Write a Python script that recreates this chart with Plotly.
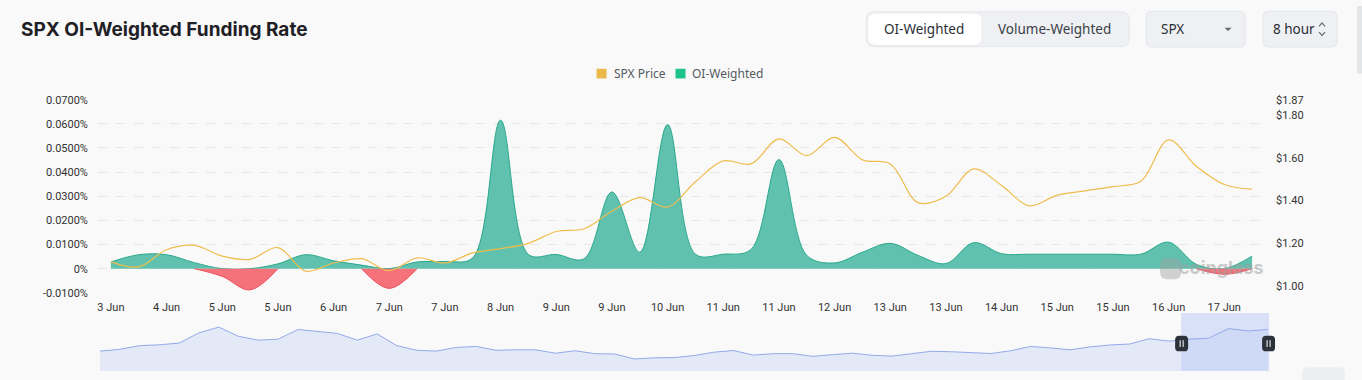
import pandas as pd
import plotly.graph_objects as go

W, H = 1362, 380

# ---------------- data ----------------
start_time = "2025-06-03 16:00"
n_points = 42
times = pd.date_range(start_time, periods=n_points, freq="8h")

# OI-weighted funding rate, in percent
funding_rate = [0.0028, 0.0058, 0.0058, 0.0025, -0.0032, -0.0088, 0.0020, 0.0058,
                0.0033, 0.0015, -0.0082, 0.0028, 0.0030, 0.0045, 0.0615, 0.0059,
                0.0059, 0.0041, 0.0318, 0.0068, 0.0597, 0.0060, 0.0060, 0.0080,
                0.0452, 0.0055, 0.0024, 0.0068, 0.0105, 0.0055, 0.0021, 0.0108,
                0.0062, 0.0060, 0.0060, 0.0060, 0.0060, 0.0060, 0.0110, 0.0018,
                -0.0023, 0.0052]

# SPX price (USD)
spx_price = [1.113, 1.090, 1.170, 1.190, 1.140, 1.125, 1.180, 1.070,
             1.108, 1.128, 1.072, 1.132, 1.108, 1.155, 1.175, 1.200,
             1.255, 1.268, 1.350, 1.413, 1.370, 1.488, 1.585, 1.571,
             1.688, 1.610, 1.695, 1.590, 1.571, 1.390, 1.420, 1.548,
             1.470, 1.375, 1.425, 1.445, 1.465, 1.490, 1.683, 1.560,
             1.475, 1.453]

x_tick_labels = ["3 Jun", "4 Jun", "5 Jun", "5 Jun", "6 Jun", "7 Jun", "7 Jun",
                 "8 Jun", "9 Jun", "9 Jun", "10 Jun", "11 Jun", "11 Jun", "12 Jun",
                 "13 Jun", "13 Jun", "14 Jun", "15 Jun", "15 Jun", "16 Jun", "17 Jun"]

left_tick_vals = [-0.01, 0.0, 0.01, 0.02, 0.03, 0.04, 0.05, 0.06, 0.07]
left_tick_text = ["-0.0100%", "0%", "0.0100%", "0.0200%", "0.0300%", "0.0400%",
                  "0.0500%", "0.0600%", "0.0700%"]
right_tick_vals = [1.00, 1.20, 1.40, 1.60, 1.80, 1.87]
right_tick_text = ["$1.00", "$1.20", "$1.40", "$1.60", "$1.80", "$1.87"]

# overview (data-zoom slider) series, relative heights
slider_values = [20.7, 22.5, 26.3, 27.2, 29.0, 39.5, 45.5, 36.0, 32.0, 33.0,
                 43.0, 41.0, 39.0, 32.0, 38.5, 26.3, 21.5, 20.7, 24.5, 25.5,
                 21.5, 22.0, 22.0, 18.5, 21.0, 18.0, 17.7, 12.5, 13.7, 14.0,
                 16.0, 19.5, 21.3, 16.5, 18.0, 18.0, 15.3, 17.0, 18.5, 16.3,
                 15.5, 18.0, 20.5, 20.0, 18.8, 18.2, 21.0, 25.5, 24.0, 22.0,
                 25.0, 27.0, 28.0, 33.5, 31.0, 33.0, 34.0, 44.0, 41.5, 43.0]

# ---------------- helpers ----------------
def px(x):
    return x / W


def py(y):
    return 1 - y / H


def P(x, y):
    return f"{px(x):.5f},{py(y):.5f}"


def rrect_path(x0, y0, x1, y1, r):
    return (f"M {P(x0 + r, y0)} L {P(x1 - r, y0)} Q {P(x1, y0)} {P(x1, y0 + r)} "
            f"L {P(x1, y1 - r)} Q {P(x1, y1)} {P(x1 - r, y1)} L {P(x0 + r, y1)} "
            f"Q {P(x0, y1)} {P(x0, y1 - r)} L {P(x0, y0 + r)} Q {P(x0, y0)} {P(x0 + r, y0)} Z")


# split the funding series into positive / negative parts
pos_vals = [max(v, 0.0) for v in funding_rate]
neg_vals = []
for i, v in enumerate(funding_rate):
    near_neg = v < 0 or (i > 0 and funding_rate[i - 1] < 0) or (
        i < len(funding_rate) - 1 and funding_rate[i + 1] < 0)
    neg_vals.append(min(v, 0.0) if near_neg else None)

fig = go.Figure()

fig.add_trace(go.Scatter(
    x=times, y=pos_vals, mode="lines", line=dict(color="#2aa88c", width=1, shape="spline", smoothing=1.0),
    fill="tozeroy", fillcolor="#5fc1ae", showlegend=False, xaxis="x", yaxis="y", name="OI-Weighted"))
fig.add_trace(go.Scatter(
    x=times, y=neg_vals, mode="lines", line=dict(color="#ee5562", width=1, shape="spline", smoothing=1.0),
    fill="tozeroy", fillcolor="#f5727b", showlegend=False, connectgaps=False,
    xaxis="x", yaxis="y", name="OI-Weighted"))
fig.add_trace(go.Scatter(
    x=times, y=spx_price, mode="lines", line=dict(color="#efbd4e", width=1.2, shape="spline", smoothing=1.0),
    showlegend=False, xaxis="x", yaxis="y3", name="SPX Price"))

fig.add_trace(go.Scatter(
    x=list(range(len(slider_values))), y=slider_values, mode="lines",
    line=dict(color="#93aaea", width=1), fill="tozeroy", fillcolor="rgba(196,209,244,0.40)",
    showlegend=False, xaxis="x2", yaxis="y2", hoverinfo="skip"))

pad_left = pd.Timedelta(hours=3.73)
pad_right = pd.Timedelta(hours=4.3)

tick_font = dict(family="Roboto, Arial, sans-serif", size=11, color="#333333")

fig.update_layout(
    width=W, height=H,
    margin=dict(l=0, r=0, t=0, b=0),
    paper_bgcolor="#f9f9f9", plot_bgcolor="#f9f9f9",
    xaxis=dict(domain=[px(97), px(1267)], type="date",
               range=[times[0] - pad_left, times[-1] + pad_right],
               tickvals=list(times[::2]), ticktext=x_tick_labels,
               showgrid=False, zeroline=False, showline=False,
               ticks="", tickfont=tick_font, ticklabelstandoff=6, anchor="y"),
    yaxis=dict(domain=[py(297), py(97)], range=[-0.01, 0.07],
               tickvals=left_tick_vals, ticktext=left_tick_text,
               showgrid=True, gridcolor="#e6e6e6", griddash="dash", gridwidth=1,
               zeroline=False, showline=False, ticks="", tickfont=tick_font,
               ticklabelstandoff=9, anchor="x"),
    yaxis3=dict(overlaying="y", side="right", anchor="x", range=[0.9685, 1.8712],
                tickvals=right_tick_vals, ticktext=right_tick_text,
                showgrid=False, zeroline=False, showline=False, ticks="",
                tickfont=tick_font, ticklabelstandoff=8),
    xaxis2=dict(domain=[px(99), px(1268)], range=[0, len(slider_values) - 1],
                visible=False, anchor="y2"),
    yaxis2=dict(domain=[py(378), py(318)], range=[0, 60], visible=False, anchor="x2"),
)

shapes = []
annotations = []

# title
annotations.append(dict(text="SPX OI-Weighted Funding Rate", x=px(18), y=py(24), xref="paper", yref="paper",
                        xanchor="left", yanchor="middle", showarrow=False,
                        font=dict(family="Inter, sans-serif", size=19, color="#1e2026", weight=700)))

# segmented control
shapes.append(dict(type="path", xref="paper", yref="paper", path=rrect_path(866, 6, 1129, 42, 8),
                   fillcolor="#eef0f3", line=dict(color="#e4e6ea", width=1)))
shapes.append(dict(type="path", xref="paper", yref="paper", path=rrect_path(868, 8, 981, 40, 7),
                   fillcolor="#ffffff", line=dict(width=0)))
btn_font = dict(family="Noto Sans, sans-serif", size=13.5, color="#2b2f36")
annotations.append(dict(text="OI-Weighted", x=px(924), y=py(24), xref="paper", yref="paper",
                        xanchor="center", yanchor="middle", showarrow=False, font=btn_font))
annotations.append(dict(text="Volume-Weighted", x=px(1054), y=py(24), xref="paper", yref="paper",
                        xanchor="center", yanchor="middle", showarrow=False,
                        font=dict(family="Noto Sans, sans-serif", size=13.5, color="#3a3f47")))

# SPX dropdown
shapes.append(dict(type="path", xref="paper", yref="paper", path=rrect_path(1146, 5.5, 1245, 42.5, 6),
                   fillcolor="#eef0f3", line=dict(color="#e2e5e9", width=1)))
annotations.append(dict(text="SPX", x=px(1159), y=py(24), xref="paper", yref="paper",
                        xanchor="left", yanchor="middle", showarrow=False, font=btn_font))
shapes.append(dict(type="path", xref="paper", yref="paper",
                   path=f"M {P(1224.5, 22.5)} L {P(1231.5, 22.5)} L {P(1228, 26)} Z",
                   fillcolor="#666a70", line=dict(width=0)))

# interval selector
shapes.append(dict(type="path", xref="paper", yref="paper", path=rrect_path(1263, 5.5, 1337, 42.5, 6),
                   fillcolor="#eef0f3", line=dict(color="#e2e5e9", width=1)))
annotations.append(dict(text="8 hour", x=px(1271), y=py(24), xref="paper", yref="paper",
                        xanchor="left", yanchor="middle", showarrow=False, font=btn_font))
shapes.append(dict(type="path", xref="paper", yref="paper",
                   path=f"M {P(1319, 21)} L {P(1322, 17.5)} L {P(1325, 21)}",
                   line=dict(color="#666a70", width=1.2)))
shapes.append(dict(type="path", xref="paper", yref="paper",
                   path=f"M {P(1319, 27)} L {P(1322, 30.5)} L {P(1325, 27)}",
                   line=dict(color="#666a70", width=1.2)))

# scrollbar hint
shapes.append(dict(type="rect", xref="paper", yref="paper", x0=px(1357), x1=px(1362), y0=py(70), y1=py(0),
                   fillcolor="#e3e5e9", line=dict(width=0)))

# legend (manual)
leg_font = dict(family="Noto Sans, sans-serif", size=12, color="#555a60")
shapes.append(dict(type="rect", xref="paper", yref="paper", x0=px(596), x1=px(606), y0=py(75), y1=py(65),
                   fillcolor="#ebb94a", line=dict(width=0)))
annotations.append(dict(text="SPX Price", x=px(611), y=py(70), xref="paper", yref="paper",
                        xanchor="left", yanchor="middle", showarrow=False, font=leg_font))
shapes.append(dict(type="rect", xref="paper", yref="paper", x0=px(675), x1=px(685), y0=py(75), y1=py(65),
                   fillcolor="#1ec28b", line=dict(width=0)))
annotations.append(dict(text="OI-Weighted", x=px(690), y=py(70), xref="paper", yref="paper",
                        xanchor="left", yanchor="middle", showarrow=False, font=leg_font))

# watermark
shapes.append(dict(type="path", xref="paper", yref="paper", path=rrect_path(1160, 261, 1181, 283, 7),
                   fillcolor="rgba(160,160,160,0.45)", line=dict(width=0)))
annotations.append(dict(text="coinglass", x=px(1221), y=py(271), xref="paper", yref="paper",
                        xanchor="center", yanchor="middle", showarrow=False,
                        font=dict(family="Inter, sans-serif", size=18, color="rgba(160,160,160,0.55)", weight=700)))

# slider selected window + handles
shapes.append(dict(type="rect", xref="paper", yref="paper", x0=px(1181), x1=px(1269), y0=py(378), y1=py(318),
                   fillcolor="rgba(190,206,246,0.55)", line=dict(width=0), layer="below"))
for hx in (1181.5, 1268.5):
    shapes.append(dict(type="path", xref="paper", yref="paper",
                       path=rrect_path(hx - 6.5, 341.5, hx + 6.5, 357.5, 4),
                       fillcolor="#2c313a", line=dict(width=0)))
    for dx in (-1.5, 1.5):
        shapes.append(dict(type="line", xref="paper", yref="paper", x0=px(hx + dx), x1=px(hx + dx),
                           y0=py(346), y1=py(353), line=dict(color="#ffffff", width=1)))

# cut-off corner widget
shapes.append(dict(type="path", xref="paper", yref="paper", path=rrect_path(1302, 374, 1345, 390, 6),
                   fillcolor="#eceef2", line=dict(width=0)))

fig.update_layout(shapes=shapes, annotations=annotations)

fig.write_html("out.html", config={"displayModeBar": False},
               post_script="document.body.style.margin='0px';")
